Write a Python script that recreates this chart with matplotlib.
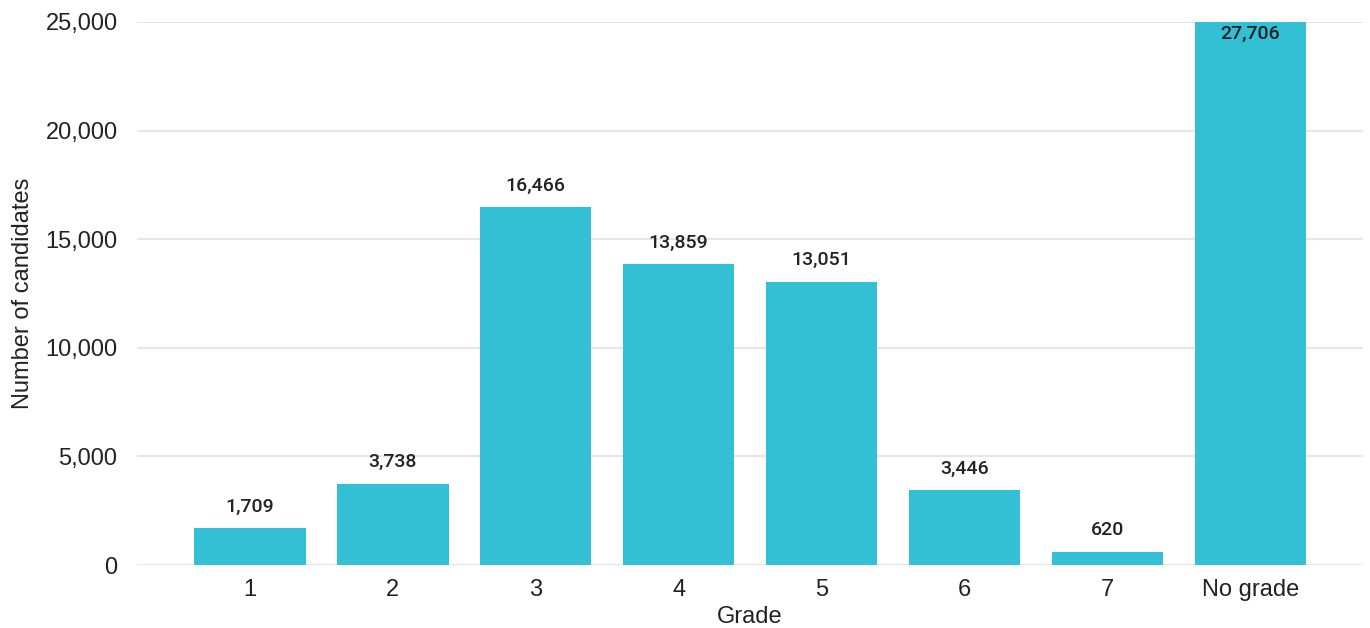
import numpy as np
import matplotlib.pyplot as plt

grades = ['1', '2', '3', '4', '5', '6', '7', 'No grade']
candidates = [1709, 3738, 16466, 13859, 13051, 3446, 620, 27706]
yticks = [0, 5000, 10000, 15000, 20000, 25000]
ymax = 25000

plt.rcParams['font.family'] = ['Liberation Sans', 'DejaVu Sans']

fig = plt.figure(figsize=(13.7, 6.28), dpi=100)
ax = fig.add_axes([0.1, 0.1003, 0.895, 0.8647])

x = np.arange(len(grades))
ax.bar(x, candidates, width=0.78, color='#33BFD4', zorder=2)

for xi, v in zip(x, candidates):
    if v > ymax:
        ax.annotate(f'{v:,}', (xi, ymax), xytext=(0, -2), textcoords='offset points',
                    ha='center', va='top', fontsize=14, fontweight='medium',
                    family='Roboto', color='#222222')
    else:
        ax.annotate(f'{v:,}', (xi, v), xytext=(0, 9), textcoords='offset points',
                    ha='center', va='bottom', fontsize=14, fontweight='medium',
                    family='Roboto', color='#222222')

ax.set_ylim(0, ymax)
ax.set_xlim(-0.79, len(grades) - 1 + 0.79)
ax.set_yticks(yticks)
ax.set_yticklabels([f'{t:,}' for t in yticks])
ax.set_xticks(x)
ax.set_xticklabels(grades)
ax.tick_params(axis='both', length=0, labelsize=17, colors='#222222')
ax.tick_params(axis='y', pad=14)
ax.tick_params(axis='x', pad=10)
ax.grid(axis='y', color='#e6e6e6', linewidth=1.5, zorder=0)
for s in ax.spines.values():
    s.set_visible(False)
ax.set_xlabel('Grade', fontsize=17, color='#222222', labelpad=4)
ax.set_ylabel('Number of candidates', fontsize=17, color='#222222', labelpad=8)

fig.savefig('out.png', dpi=100)
